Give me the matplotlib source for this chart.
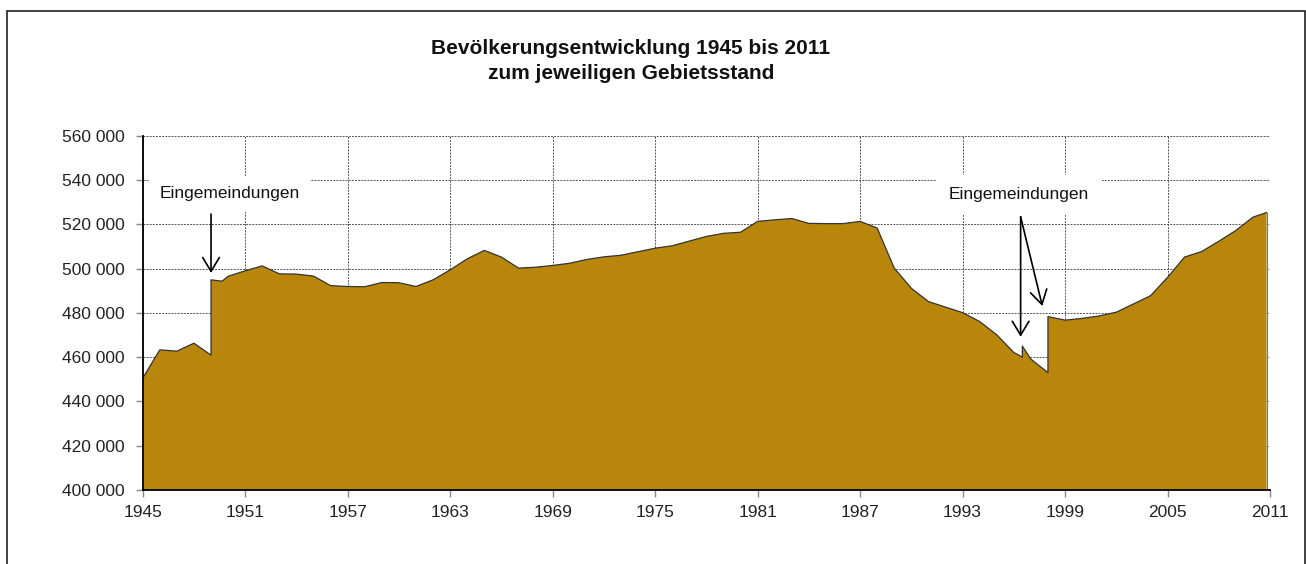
import matplotlib
matplotlib.use("Agg")
import matplotlib.pyplot as plt
from matplotlib.patches import Rectangle
from matplotlib.ticker import FuncFormatter

plt.rcParams['font.family'] = ['Liberation Sans', 'DejaVu Sans']

# population by year (fractional positions where the series jumps)
years = [1945, 1946, 1947, 1948, 1949, 1949, 1949.65, 1950, 1951, 1952,
         1953, 1954, 1955, 1956, 1957, 1958, 1959, 1960, 1961, 1962,
         1963, 1964, 1965, 1966, 1967, 1968, 1969, 1970, 1971, 1972,
         1973, 1974, 1975, 1976, 1977, 1978, 1979, 1980, 1981, 1982,
         1983, 1984, 1985, 1986, 1987, 1988, 1989, 1990, 1991, 1992,
         1993, 1994, 1995, 1996, 1996.5, 1996.5, 1997, 1998, 1998, 1999,
         2000, 2001, 2002, 2003, 2004, 2005, 2006, 2007, 2008, 2009,
         2010, 2010.8]
population = [450500, 463300, 462700, 466300, 460900, 494900, 494300, 496500, 499000, 501200,
              497600, 497500, 496600, 492300, 491900, 491800, 493700, 493600, 491900, 494900,
              499400, 504400, 508200, 505200, 500200, 500600, 501400, 502400, 504100, 505300,
              506000, 507600, 509200, 510300, 512400, 514500, 515900, 516400, 521300, 522000,
              522600, 520400, 520300, 520300, 521300, 518300, 500200, 491100, 485100, 482600,
              480100, 476100, 470100, 462100, 460000, 465000, 459100, 453000, 478300, 476700,
              477500, 478600, 480300, 484000, 487700, 496000, 505200, 507700, 512300, 517200,
              523200, 525300]

x_ticks = list(range(1945, 2012, 6))
y_ticks = list(range(400000, 560001, 20000))

title = "Bevölkerungsentwicklung 1945 bis 2011\nzum jeweiligen Gebietsstand"
note = "Eingemeindungen"

W, H = 1306, 564
fig = plt.figure(figsize=(W / 100, H / 100), dpi=100)
ax = fig.add_axes([142.7 / W, 1 - 490 / H, (1270 - 142.7) / W, (490 - 135.7) / H])

# outer frame of the chart (cut off at the bottom)
fig.patches.append(Rectangle((7 / W, -0.1), (1305 - 7) / W, 1.1 - 11 / H,
                             transform=fig.transFigure, fill=False,
                             edgecolor='#222222', linewidth=1.2))

ax.fill_between(years, population, 400000, color='#B8860B', edgecolor='none', zorder=2)
ax.plot(years, population, color='#333333', linewidth=0.9, zorder=2.3)
ax.plot([years[-1], years[-1]], [400000, population[-1]], color='#777777', linewidth=0.8, zorder=2.3)

ax.set_xlim(1945, 2011)
ax.set_ylim(400000, 560000)
ax.set_xticks(x_ticks)
ax.set_yticks(y_ticks)
ax.yaxis.set_major_formatter(FuncFormatter(lambda v, p: f"{int(v):,}".replace(",", " ")))

ax.set_axisbelow(True)
ax.grid(True, color='#555555', linestyle=(0, (2, 1.2)), linewidth=0.7)
ax.spines['top'].set_visible(False)
ax.spines['right'].set_visible(False)
for side in ('left', 'bottom'):
    ax.spines[side].set_linewidth(1.3)
    ax.spines[side].set_zorder(3)
ax.tick_params(axis='both', length=5, width=1, color='#888888', labelsize=12.5,
               labelcolor='#222222')
ax.tick_params(axis='y', pad=8)
ax.tick_params(axis='x', pad=6)

fig.text(631 / W, 1 - 61 / H, title, ha='center', va='center', fontsize=15,
         fontweight='bold', linespacing=1.35, color='#111111')

box = dict(facecolor='white', edgecolor='none', pad=7.5)
ax.text(1950.1, 533700, note, ha='center', va='center', fontsize=12.5, color='#111111',
        bbox=box, zorder=2.2)
ax.text(1996.3, 533300, note, ha='center', va='center', fontsize=12.5, color='#111111',
        bbox=dict(facecolor='white', edgecolor='none', pad=9), zorder=2.2)

arrow = dict(arrowstyle='->,head_width=0.3,head_length=0.5', color='black', lw=1.2,
             mutation_scale=20, shrinkA=0, shrinkB=0)
ax.annotate('', xy=(1949.0, 498000), xytext=(1949.0, 524600), arrowprops=arrow, zorder=4)
ax.annotate('', xy=(1996.4, 469200), xytext=(1996.4, 523400), arrowprops=arrow, zorder=4)
ax.annotate('', xy=(1997.67, 483100), xytext=(1996.4, 523400), arrowprops=arrow, zorder=4)

fig.savefig("out.png", dpi=100)
